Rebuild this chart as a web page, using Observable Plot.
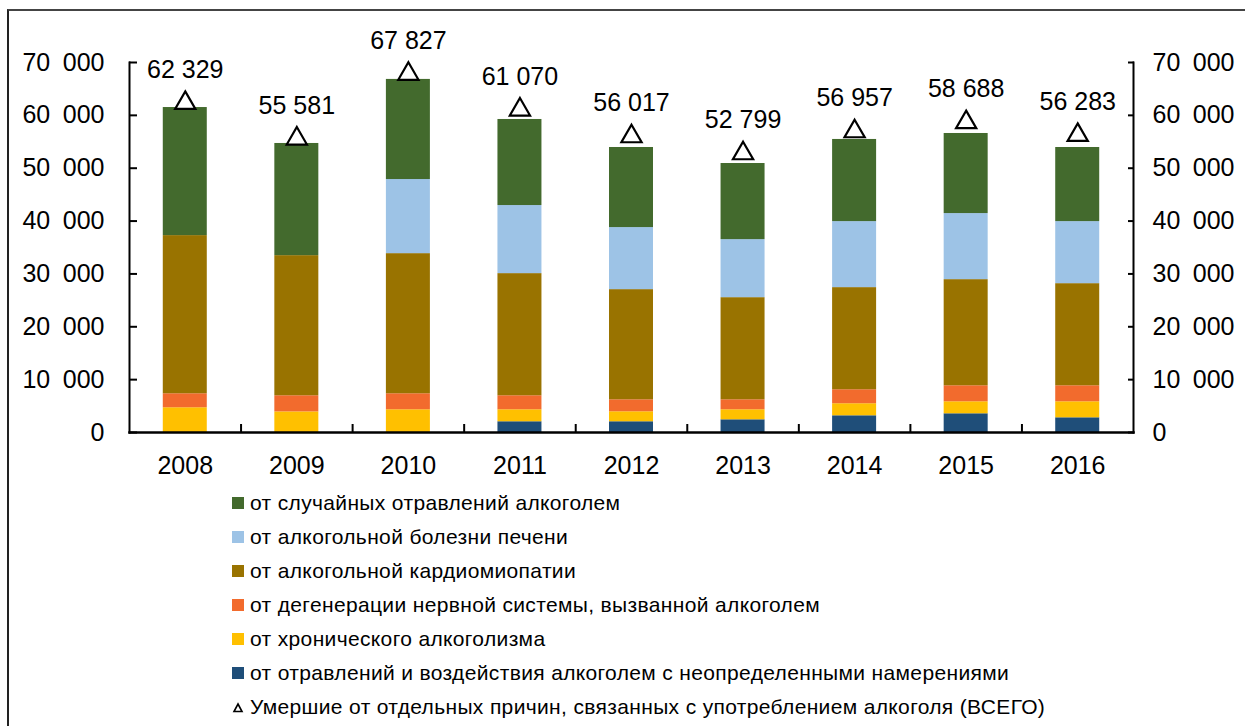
<!DOCTYPE html>
<html>
<head>
<meta charset="utf-8">
<script src="https://cdn.jsdelivr.net/npm/d3@7"></script>
<script src="https://cdn.jsdelivr.net/npm/@observablehq/plot@0.6"></script>
<style>
  html, body { margin: 0; padding: 0; background: #fff; }
  #wrap { position: relative; width: 1245px; height: 726px; overflow: hidden; font-family: "Liberation Sans", Arial, sans-serif; }
  #border { position: absolute; left: 7px; top: 9px; width: 2000px; height: 2000px; border-top: 2px solid #444; border-left: 2px solid #222; }
  #chart { position: absolute; left: 0; top: 0; }
  #legend { position: absolute; left: 232px; top: 486px; }
  .row { height: 34px; display: flex; align-items: center; font-size: 21px; letter-spacing: 0.35px; color: #000; white-space: nowrap; }
  .sw { width: 12px; height: 12px; margin-right: 6px; flex: none; }
</style>
</head>
<body>
<div id="wrap">
  <div id="border"></div>
  <div id="chart"></div>
  <div id="legend"></div>
</div>
<script>
const years = ["2008","2009","2010","2011","2012","2013","2014","2015","2016"];
const totals = [62329, 55581, 67827, 61070, 56017, 52799, 56957, 58688, 56283];

// series, bottom to top
const seriesNames = [
  "от отравлений и воздействия алкоголем с неопределенными намерениями",
  "от хронического алкоголизма",
  "от дегенерации нервной системы, вызванной алкоголем",
  "от алкогольной кардиомиопатии",
  "от алкогольной болезни печени",
  "от случайных отравлений алкоголем"
];
const seriesColors = ["#1F4E79", "#FFC000", "#F26B2D", "#997300", "#9DC3E6", "#436A2D"];
const undetermined = [0, 0, 0, 2030, 2030, 2400, 3160, 3540, 2780];
const chronic      = [4680, 3900, 4300, 2270, 1890, 1900, 2280, 2270, 3030];
const nervous      = [2650, 3050, 3030, 2650, 2270, 1890, 2650, 3030, 3030];
const cardio       = [29920, 26510, 26510, 23110, 20840, 19320, 19320, 20080, 19320];
const liver        = [0, 0, 14020, 12880, 11740, 10980, 12490, 12500, 11740];
const accidental   = [24230, 21220, 18940, 16280, 15150, 14400, 15540, 15150, 14020];
const seriesValues = [undetermined, chronic, nervous, cardio, liver, accidental];
const totalLabel = "Умершие от отдельных причин, связанных с употреблением алкоголя (ВСЕГО)";
const yTicks = [0, 10000, 20000, 30000, 40000, 50000, 60000, 70000];

const fmtAxis = v => d3.format(",")(v).replace(/,/g, "\u2002");
const fmtVal = v => d3.format(",")(v).replace(/,/g, " ");

const rows = [];
seriesNames.forEach((s, si) => {
  years.forEach((y, yi) => rows.push({year: y, series: s, value: seriesValues[si][yi]}));
});
const totalRows = years.map((y, i) => ({year: y, total: totals[i]}));

const W = 1245, H = 482, mL = 129, mR = 112, mT = 62, mB = 50;
const bw = (W - mL - mR) / years.length;
const font = "Liberation Sans, Arial, sans-serif";

const chart = Plot.plot({
  width: W, height: H,
  marginLeft: mL, marginRight: mR, marginTop: mT, marginBottom: mB,
  style: {fontFamily: font, fontSize: "25px", color: "#000", background: "transparent"},
  x: {domain: years, padding: 0, round: false, label: null},
  y: {domain: [0, 70000], label: null},
  color: {domain: seriesNames, range: seriesColors},
  marks: [
    Plot.barY(rows, {x: "year", y: "value", fill: "series", insetLeft: (bw - 44) / 2, insetRight: (bw - 44) / 2}),
    Plot.frame({anchor: "left", stroke: "#000", strokeWidth: 2}),
    Plot.frame({anchor: "right", stroke: "#000", strokeWidth: 2}),
    Plot.frame({anchor: "bottom", stroke: "#000", strokeWidth: 2.5}),
    Plot.ruleX(years.slice(1), {x: d => d, dx: -bw / 2, stroke: "#000", strokeWidth: 2, insetTop: H - mT - mB - 8}),
    Plot.axisY({anchor: "left", ticks: yTicks, tickFormat: fmtAxis, tickSize: -8, tickPadding: 33, strokeWidth: 2, fontSize: 25}),
    Plot.axisY({anchor: "right", ticks: yTicks, tickFormat: fmtAxis, tickSize: -6, tickPadding: 25, strokeWidth: 2, fontSize: 25}),
    Plot.axisX({anchor: "bottom", tickSize: 0, tickPadding: 24, fontSize: 25}),
    Plot.dot(totalRows, {x: "year", y: "total", symbol: "triangle", r: 7.5, fill: "#fff", stroke: "#000", strokeWidth: 2.2}),
    Plot.text(totalRows, {x: "year", y: "total", text: d => fmtVal(d.total), dy: -33, fontSize: 25, fill: "#000"})
  ]
});
document.getElementById("chart").appendChild(chart);

// legend (top to bottom = reverse stack order), then totals marker
const legend = document.getElementById("legend");
seriesNames.slice().reverse().forEach((s, i) => {
  const c = seriesColors[seriesColors.length - 1 - i];
  const row = document.createElement("div");
  row.className = "row";
  row.innerHTML = `<span class="sw" style="background:${c}"></span><span>${s}</span>`;
  legend.appendChild(row);
});
const tri = document.createElement("div");
tri.className = "row";
tri.innerHTML = `<svg class="sw" width="12" height="12" viewBox="0 0 12 12" style="overflow:visible"><path d="M6,3 L10,10.5 L2,10.5 Z" fill="#fff" stroke="#000" stroke-width="1.6"/></svg><span>${totalLabel}</span>`;
legend.appendChild(tri);
</script>
</body>
</html>
